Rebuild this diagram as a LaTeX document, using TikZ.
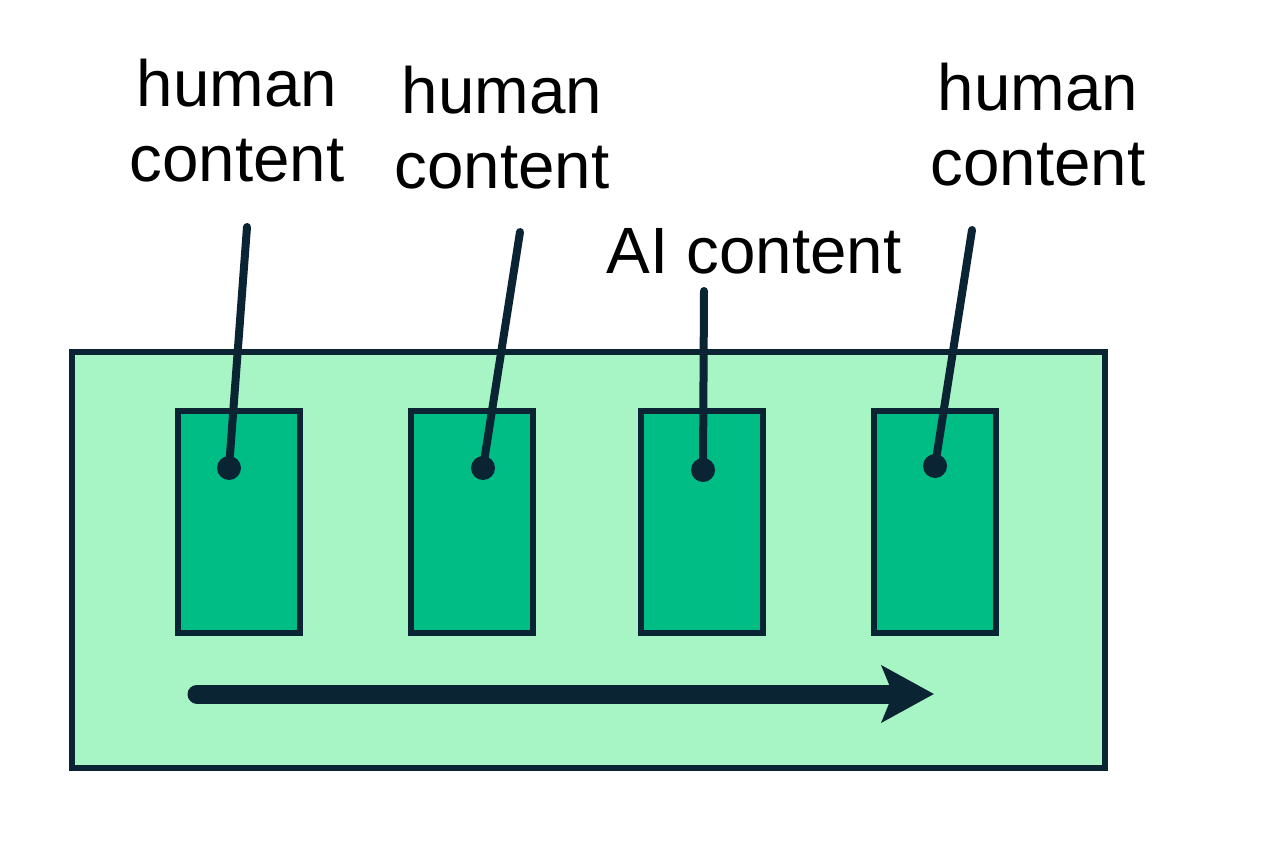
\documentclass[tikz,border=0pt]{standalone}
\usepackage{fontspec}
\setmainfont{Liberation Sans}
\usetikzlibrary{arrows.meta}
\definecolor{lightg}{HTML}{A7F4C4}
\definecolor{midg}{HTML}{00BD85}
\definecolor{darkc}{HTML}{0A2434}
\begin{document}
\begin{tikzpicture}[x=1pt,y=-1pt,
  outerbox/.style={draw=darkc,fill=lightg,line width=6pt},
  innerbox/.style={draw=darkc,fill=midg,line width=6pt,minimum width=122pt,minimum height=222pt,inner sep=0pt},
  dot/.style={circle,fill=darkc,minimum size=24pt,inner sep=0pt},
  pointer/.style={draw=darkc,line width=8pt,line cap=round},
  lbl/.style={font=\fontsize{65.5pt}{75pt}\selectfont,align=center,inner sep=0pt,text=black},
  flow/.style={draw=darkc,line width=19pt,line cap=round,-{Stealth[length=52pt,width=56pt,inset=11pt]}}
]
\useasboundingbox (0,0) rectangle (1280,848);
\draw[outerbox] (72,352) rectangle (1105,768);
\node[innerbox] (b1) at (239,522) {};
\node[innerbox] (b2) at (472,522) {};
\node[innerbox] (b3) at (702,522) {};
\node[innerbox] (b4) at (934.5,522) {};
\node[dot] (d1) at (229,468) {};
\node[dot] (d2) at (483,468) {};
\node[dot] (d3) at (703,470) {};
\node[dot] (d4) at (935,466) {};
\coordinate (t1) at (247,227);
\coordinate (t2) at (520,232);
\coordinate (t3) at (704,291);
\coordinate (t4) at (972,230);
\draw[pointer] (t1) -- (d1.center);
\draw[pointer] (t2) -- (d2.center);
\draw[pointer] (t3) -- (d3.center);
\draw[pointer] (t4) -- (d4.center);
\node[lbl] (l1) at (237,121) {human\\content};
\node[lbl] (l2) at (502,128) {human\\content};
\node[lbl] (l3) at (1038,125) {human\\content};
\node[lbl,anchor=base] (l4) at (754,273) {AI content};
\coordinate (a1) at (197,694);
\coordinate (a2) at (934,694);
\draw[flow] (a1) -- (a2);
\end{tikzpicture}
\end{document}
